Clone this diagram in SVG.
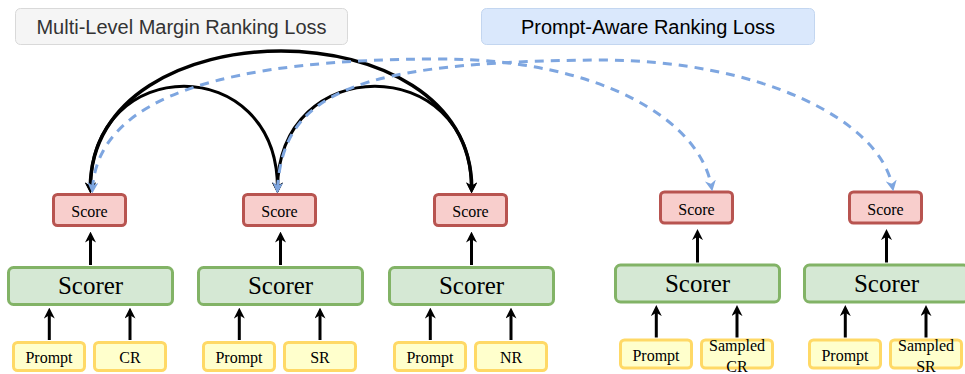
<svg xmlns="http://www.w3.org/2000/svg" width="965" height="374" viewBox="0 0 965 374">
  <defs>
    <style>
      .title { font-family: "Liberation Sans", Arial, sans-serif; font-size: 20px; text-anchor: middle; }
      .score { fill: #f8cecc; stroke: #b85450; stroke-width: 3; }
      .scorer { fill: #d5e8d4; stroke: #82b366; stroke-width: 3; }
      .input { fill: #ffffcc; stroke: #ffd966; stroke-width: 3; }
      .lbl { font-family: "Liberation Serif", "Times New Roman", serif; fill: #000; text-anchor: middle; }
      .s16 { font-size: 16px; }
      .s25 { font-size: 25px; }
      .feed { fill: none; stroke: #000; stroke-width: 3; marker-end: url(#ah); }
      .rank { fill: none; stroke: #000; stroke-width: 3; marker-start: url(#ah); marker-end: url(#ah); }
      .aware { fill: none; stroke: #7ea6e0; stroke-width: 3; stroke-dasharray: 9 7; marker-start: url(#ahb); marker-end: url(#ahb); }
    </style>
    <marker id="ah" viewBox="0 0 10 10" refX="6" refY="5" markerWidth="11" markerHeight="11" markerUnits="userSpaceOnUse" orient="auto-start-reverse">
      <path d="M0,0 L10,5 L0,10 L3,5 z" fill="#000"/>
    </marker>
    <marker id="ahb" viewBox="0 0 10 10" refX="6" refY="5" markerWidth="11" markerHeight="11" markerUnits="userSpaceOnUse" orient="auto-start-reverse">
      <path d="M0,0 L10,5 L0,10 L3,5 z" fill="#7ea6e0"/>
    </marker>
  </defs>

  <rect width="965" height="374" fill="#fff"/>

  <!-- loss labels -->
  <g id="label-margin">
    <rect x="15.5" y="8.5" width="332" height="36" rx="5" fill="#f5f5f5" stroke="#d9d9d9"/>
    <text class="title" x="181.5" y="34" fill="#333333">Multi-Level Margin Ranking Loss</text>
  </g>
  <g id="label-prompt">
    <rect x="481.5" y="8.5" width="333" height="36" rx="5" fill="#dae8fc" stroke="#c3d6f0"/>
    <text class="title" x="648" y="34" fill="#000">Prompt-Aware Ranking Loss</text>
  </g>

  <!-- branch 1: CR -->
  <g id="score-cr"><rect class="score" x="53.5" y="194.5" width="72" height="31" rx="4"/><text class="lbl s16" x="89.5" y="217">Score</text></g>
  <g id="scorer-cr"><rect class="scorer" x="8.5" y="267.5" width="164" height="37" rx="5"/><text class="lbl s25" x="90.5" y="294">Scorer</text></g>
  <g id="prompt-cr"><rect class="input" x="13.5" y="342.5" width="71" height="28" rx="4"/><text class="lbl s16" x="49" y="363">Prompt</text></g>
  <g id="resp-cr"><rect class="input" x="94.5" y="342.5" width="71" height="28" rx="4"/><text class="lbl s16" x="130" y="363">CR</text></g>

  <!-- branch 2: SR -->
  <g id="score-sr"><rect class="score" x="243.5" y="194.5" width="72" height="31" rx="4"/><text class="lbl s16" x="279.5" y="217">Score</text></g>
  <g id="scorer-sr"><rect class="scorer" x="198.5" y="267.5" width="164" height="37" rx="5"/><text class="lbl s25" x="280.5" y="294">Scorer</text></g>
  <g id="prompt-sr"><rect class="input" x="203.5" y="342.5" width="71" height="28" rx="4"/><text class="lbl s16" x="239" y="363">Prompt</text></g>
  <g id="resp-sr"><rect class="input" x="284.5" y="342.5" width="71" height="28" rx="4"/><text class="lbl s16" x="320" y="363">SR</text></g>

  <!-- branch 3: NR -->
  <g id="score-nr"><rect class="score" x="434.5" y="194.5" width="72" height="31" rx="4"/><text class="lbl s16" x="470.5" y="217">Score</text></g>
  <g id="scorer-nr"><rect class="scorer" x="389.5" y="267.5" width="164" height="37" rx="5"/><text class="lbl s25" x="471.5" y="294">Scorer</text></g>
  <g id="prompt-nr"><rect class="input" x="394.5" y="342.5" width="71" height="28" rx="4"/><text class="lbl s16" x="430" y="363">Prompt</text></g>
  <g id="resp-nr"><rect class="input" x="475.5" y="342.5" width="71" height="28" rx="4"/><text class="lbl s16" x="511" y="363">NR</text></g>

  <!-- branch 4: sampled CR -->
  <g id="score-scr"><rect class="score" x="660.5" y="192" width="72" height="31" rx="4"/><text class="lbl s16" x="696.5" y="214.5">Score</text></g>
  <g id="scorer-scr"><rect class="scorer" x="615.5" y="265" width="164" height="37" rx="5"/><text class="lbl s25" x="697.5" y="291.5">Scorer</text></g>
  <g id="prompt-scr"><rect class="input" x="620.5" y="340" width="71" height="28" rx="4"/><text class="lbl s16" x="656" y="360.5">Prompt</text></g>
  <g id="resp-scr"><rect class="input" x="701.5" y="340" width="71" height="28" rx="4"/><text class="lbl s16" x="737" y="351">Sampled</text><text class="lbl s16" x="737" y="372">CR</text></g>

  <!-- branch 5: sampled SR -->
  <g id="score-ssr"><rect class="score" x="849.5" y="192" width="72" height="31" rx="4"/><text class="lbl s16" x="885.5" y="214.5">Score</text></g>
  <g id="scorer-ssr"><rect class="scorer" x="804.5" y="265" width="164" height="37" rx="5"/><text class="lbl s25" x="886.5" y="291.5">Scorer</text></g>
  <g id="prompt-ssr"><rect class="input" x="809.5" y="340" width="71" height="28" rx="4"/><text class="lbl s16" x="845" y="360.5">Prompt</text></g>
  <g id="resp-ssr"><rect class="input" x="890.5" y="340" width="71" height="28" rx="4"/><text class="lbl s16" x="926" y="351">Sampled</text><text class="lbl s16" x="926" y="372">SR</text></g>

  <g id="connectors">
    <!-- inputs into scorers, scorers into scores -->
    <path class="feed" d="M49.3,340 V312"/><path class="feed" d="M130,340 V312"/><path class="feed" d="M90.5,265 V236"/>
    <path class="feed" d="M239.3,340 V312"/><path class="feed" d="M320,340 V312"/><path class="feed" d="M280.5,265 V236"/>
    <path class="feed" d="M430.3,340 V312"/><path class="feed" d="M511,340 V312"/><path class="feed" d="M471.5,265 V236"/>
    <path class="feed" d="M656.3,337.5 V309.5"/><path class="feed" d="M737,337.5 V309.5"/><path class="feed" d="M697.5,262.5 V233.5"/>
    <path class="feed" d="M845.3,337.5 V309.5"/><path class="feed" d="M926,337.5 V309.5"/><path class="feed" d="M886.5,262.5 V233.5"/>

    <!-- margin ranking between CR / SR / NR scores -->
    <path class="rank" style="stroke-width:3.5" d="M90.3,189 C89,5 473,5 471.7,189"/>
    <path class="rank" d="M90.5,189 C90,52 278,52 277.5,189"/>
    <path class="rank" d="M277.5,189 C278,52 472,52 471.5,189"/>

    <!-- prompt-aware ranking to sampled responses -->
    <path class="aware" d="M92.5,189 C98,95 230,59 440,59 C600,59 700,120 711.5,187"/>
    <path class="aware" d="M277.5,189 C283,90 360,62 600,60 C760,60 880,120 892.5,187"/>
  </g>
</svg>
